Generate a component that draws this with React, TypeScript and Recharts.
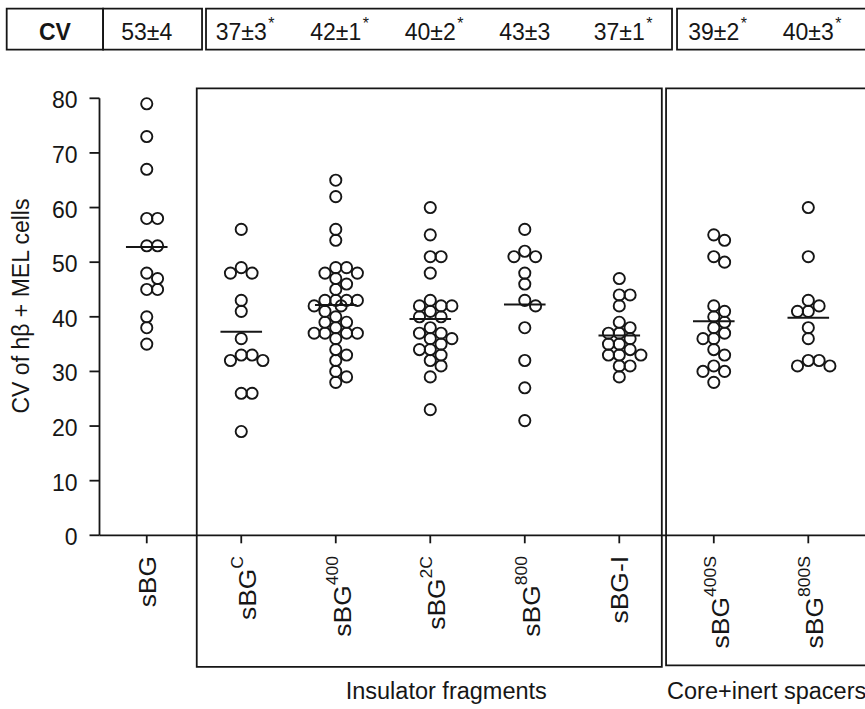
import React from 'react'
import { ScatterChart, Scatter, XAxis, YAxis, ReferenceArea, ReferenceLine, ReferenceDot } from 'recharts'

// categories on the x axis (base text + superscript)
const categories = ['sBG', 'sBG', 'sBG', 'sBG', 'sBG', 'sBG-I', 'sBG', 'sBG']
const superscripts = ['', 'C', '400', '2C', '800', '', '400S', '800S']

// CV row shown above the plot
const cvText = ['53±4', '37±3', '42±1', '40±2', '43±3', '37±1', '39±2', '40±3']
const cvStar = [false, true, true, true, false, true, true, true]

// CV values per construct
const sBG = [79, 73, 67, 58, 58, 53, 53, 48, 47, 45, 45, 40, 38, 35]
const sBGC = [56, 49, 48, 48, 43, 41, 36, 33, 33, 32, 32, 26, 26, 19]
const sBG400 = [65, 62, 56, 54, 49, 49, 48, 48, 47, 46, 45, 43, 43, 43, 43, 42, 42, 41, 40, 39, 39, 38, 37, 37, 37, 37, 36, 34, 33, 32, 30, 29, 28]
const sBG2C = [60, 55, 51, 51, 48, 43, 42, 42, 42, 41, 40, 40, 38, 37, 37, 36, 36, 35, 34, 34, 33, 32, 31, 29, 23]
const sBG800 = [56, 52, 51, 51, 48, 46, 43, 42, 38, 32, 27, 21]
const sBGI = [47, 44, 44, 42, 39, 38, 37, 37, 36, 35, 35, 34, 33, 33, 33, 31, 31, 29]
const sBG400S = [55, 54, 51, 50, 42, 41, 40, 39, 38, 37, 36, 36, 34, 33, 31, 30, 30, 28]
const sBG800S = [60, 51, 43, 42, 41, 41, 38, 36, 32, 32, 31, 31]

const groups = [sBG, sBGC, sBG400, sBG2C, sBG800, sBGI, sBG400S, sBG800S]
const yTicks = [0, 10, 20, 30, 40, 50, 60, 70, 80]
const xTicks = [0, 1, 2, 3, 4, 5, 6, 7]

const FONT = 'Liberation Sans, Arial, Helvetica, sans-serif'
const INK = '#161616'

// compact beeswarm: half-width slots, at most 4 slots each side,
// circles may overlap a little when the column is crowded
const SLOT_PX = 5.4
const MIN_DIST = 8.5
const Y_PX = 437 / 80
const X_PX = 94.5
const SLOT_ORDER = [0, 2, -2, 1, -1, 3, -3, 4, -4]
function swarm(values: number[]) {
  const placed: { k: number; v: number }[] = []
  return values.map((v) => {
    let best = 0
    let bestDist = -1
    for (const k of SLOT_ORDER) {
      let d = Infinity
      placed.forEach((p) => {
        const dx = (p.k - k) * SLOT_PX
        const dy = (p.v - v) * Y_PX
        d = Math.min(d, Math.sqrt(dx * dx + dy * dy))
      })
      if (d >= MIN_DIST) {
        best = k
        break
      }
      if (d > bestDist + 0.5) {
        bestDist = d
        best = k
      }
    }
    placed.push({ k: best, v })
    return best
  })
}

const points: { x: number; y: number }[] = []
groups.forEach((vals, i) => {
  const slots = swarm(vals)
  vals.forEach((v, j) => points.push({ x: i + (slots[j] * SLOT_PX) / X_PX, y: v }))
})
const means = groups.map((vals) => vals.reduce((a, b) => a + b, 0) / vals.length)

const BottomTick = (props: any) => {
  const { x, payload } = props
  const i = payload.value
  const sup = superscripts[i]
  const bx = x + (sup ? 15 : 9)
  return (
    <text transform={`translate(${bx},556) rotate(-90) scale(1.1,1)`} textAnchor="end" fontSize={24} fill={INK} fontFamily={FONT}>
      {categories[i]}
      {sup ? <tspan dy={-13} fontSize={16}>{sup}</tspan> : null}
    </text>
  )
}

const CvCell = (props: any) => {
  const { cx, cy, idx } = props
  return (
    <g>
      <text x={cx} y={cy + 9} textAnchor="middle" fontSize={23} fill={INK} fontFamily={FONT}>{cvText[idx]}</text>
      {cvStar[idx] ? <text x={cx + 27} y={cy - 2} fontSize={16} fill={INK} fontFamily={FONT}>*</text> : null}
    </g>
  )
}

const LeftTick = (props: any) => {
  const { x, y, payload } = props
  return (
    <text x={x} y={y + 10} textAnchor="end" fontSize={23} fill={INK} fontFamily={FONT}>{payload.value}</text>
  )
}

const YTitle = () => (
  <text transform="translate(29,306) rotate(-90)" textAnchor="middle" fontSize={23} fill={INK} fontFamily={FONT}>
    CV of hβ + MEL cells
  </text>
)

const GroupLabel = (props: any) => {
  const { viewBox, text, anchor, shift } = props
  const x = anchor === 'middle' ? viewBox.x + viewBox.width / 2 + shift : viewBox.x + shift
  return (
    <text x={x} y={699} textAnchor={anchor} fontSize={23.5} fill={INK} fontFamily={FONT}>{text}</text>
  )
}

const Circle = (props: any) => (
  <circle cx={props.cx} cy={props.cy} r={5.6} fill="none" stroke={INK} strokeWidth={1.9} />
)

const boxStyle = { fill: 'none', stroke: INK, strokeWidth: 1.8, fillOpacity: 0 }

export default function App() {
  return (
    <div style={{ position: 'absolute', left: 0, top: 0, width: 865, height: 709, background: '#fff' }}>
      <ScatterChart width={865} height={709} margin={{ top: 98.3, right: 0, bottom: 23.7, left: 0 }}>
        <XAxis
          dataKey="x" type="number" domain={[-0.5, 7.6]} ticks={xTicks} allowDataOverflow interval={0}
          height={150} tickSize={8} axisLine={{ stroke: INK, strokeWidth: 1.8 }} tickLine={{ stroke: INK, strokeWidth: 1.8 }}
          tick={<BottomTick />}
        />
        <YAxis
          dataKey="y" type="number" domain={[0, 80]} ticks={yTicks} width={99.5} interval={0}
          tickSize={10} tickMargin={12} axisLine={{ stroke: INK, strokeWidth: 1.8 }} tickLine={{ stroke: INK, strokeWidth: 1.8 }}
          tick={<LeftTick />} label={<YTitle />}
        />

        {/* CV table above the plot */}
        <ReferenceArea x1={-1.482} x2={-0.462} y1={88.9} y2={96.4} ifOverflow="visible" {...boxStyle}
          label={{ value: 'CV', position: 'center', fontSize: 23, fontWeight: 'bold', fill: INK, fontFamily: FONT, dy: 3 }} />
        <ReferenceArea x1={-0.462} x2={0.585} y1={88.9} y2={96.4} ifOverflow="visible" {...boxStyle} />
        <ReferenceArea x1={0.627} x2={5.558} y1={88.9} y2={96.4} ifOverflow="visible" {...boxStyle} />
        <ReferenceArea x1={5.611} x2={7.8} y1={88.9} y2={96.4} ifOverflow="visible" {...boxStyle} />
        {cvText.map((_, i) => (
          <ReferenceDot key={`cv${i}`} x={i} y={92.4} r={0} ifOverflow="visible" shape={(p: any) => <CvCell {...p} idx={i} />} />
        ))}

        {/* group boxes */}
        <ReferenceArea x1={0.529} x2={5.45} y1={-24.1} y2={81.8} ifOverflow="visible" {...boxStyle}
          label={<GroupLabel text="Insulator fragments" anchor="middle" shift={17} />} />
        <ReferenceArea x1={5.495} x2={7.8} y1={-23.8} y2={81.8} ifOverflow="visible" {...boxStyle}
          label={<GroupLabel text="Core+inert spacers" anchor="start" shift={1} />} />

        {means.map((m, i) => (
          <ReferenceLine key={i} segment={[{ x: i - 0.22, y: m }, { x: i + 0.22, y: m }]} stroke={INK} strokeWidth={2} ifOverflow="visible" />
        ))}

        <Scatter data={points} shape={<Circle />} isAnimationActive={false} />
      </ScatterChart>
    </div>
  )
}
